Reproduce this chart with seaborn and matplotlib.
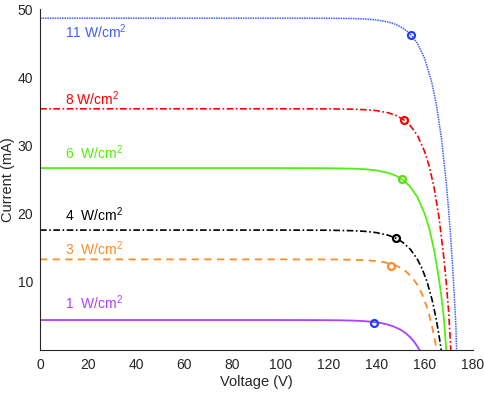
import numpy as np
import pandas as pd
import matplotlib
matplotlib.use("Agg")
import matplotlib.pyplot as plt
import seaborn as sns

sns.set_theme(style="white")
plt.rcParams["font.family"] = ["Liberation Sans", "DejaVu Sans"]
plt.rcParams["mathtext.fontset"] = "custom"
plt.rcParams["mathtext.rm"] = "Liberation Sans"

# I-V curves (voltage in V, current in mA)
v_11 = [0, 100, 120, 130, 135, 140, 145, 148, 151, 154, 157, 160, 163, 165, 167, 169, 170, 171, 172, 173, 173.3]
i_11 = [48.7, 48.7, 48.69, 48.65, 48.58, 48.44, 48.13, 47.79, 47.25, 46.39, 45.0, 42.8, 39.25, 35.8, 31.07, 24.6, 20.5, 15.75, 10.2, 3.65, 0]

v_8 = [0, 100, 120, 130, 135, 140, 145, 148, 151, 154, 157, 160, 162, 164, 166, 168, 169, 170, 170.9]
i_8 = [35.4, 35.4, 35.39, 35.34, 35.27, 35.13, 34.80, 34.44, 33.87, 32.95, 31.5, 29.15, 26.86, 23.73, 19.44, 13.58, 9.9, 5.6, 0]

v_6 = [0, 100, 120, 130, 135, 140, 145, 148, 151, 154, 157, 160, 162, 164, 166, 167, 168, 169.0]
i_6 = [26.7, 26.7, 26.68, 26.62, 26.54, 26.36, 25.99, 25.59, 24.96, 23.97, 22.45, 20.04, 17.73, 14.6, 10.39, 7.76, 4.71, 0]

v_4 = [0, 100, 120, 130, 135, 140, 145, 148, 151, 154, 157, 159, 161, 163, 164, 165, 166, 166.9]
i_4 = [17.6, 17.6, 17.58, 17.51, 17.42, 17.22, 16.83, 16.42, 15.78, 14.81, 13.32, 11.91, 10.03, 7.52, 5.96, 4.18, 2.13, 0]

v_3 = [0, 100, 120, 130, 135, 140, 143, 146, 149, 152, 155, 157, 159, 161, 162, 163, 164, 165]
i_3 = [13.3, 13.3, 13.29, 13.25, 13.19, 13.05, 12.90, 12.65, 12.25, 11.61, 10.58, 9.56, 8.17, 6.25, 5.04, 3.61, 1.96, 0]

v_1 = [0, 100, 110, 120, 125, 130, 134, 138, 141, 144, 147, 150, 152, 154, 156, 157.9]
i_1 = [4.4, 4.4, 4.395, 4.38, 4.36, 4.32, 4.255, 4.14, 4.01, 3.80, 3.47, 2.98, 2.51, 1.88, 1.05, 0]

# maximum power points
mpp_v = [154.4, 151.5, 150.4, 148.2, 146.1, 138.9]
mpp_i = [46.3, 33.8, 25.1, 16.5, 12.4, 3.9]

labels = ["11 W/cm$^2$", "8 W/cm$^2$", "6  W/cm$^2$", "4  W/cm$^2$", "3  W/cm$^2$", "1  W/cm$^2$"]
label_i = [45.8, 35.9, 28.0, 19.0, 13.9, 5.95]

curves = [(v_11, i_11), (v_8, i_8), (v_6, i_6), (v_4, i_4), (v_3, i_3), (v_1, i_1)]
colors = ["#3f5fff", "#ff0000", "#55ee11", "#000000", "#ff8c26", "#b040ff"]
mcolors = ["#1f3fff", "#ff0000", "#55dd11", "#000000", "#ff8c26", "#1f3fff"]
styles = [(0, (1, 0.6)), (0, (4, 1.5, 1, 1.5)), "-", (0, (4, 1.5, 1, 1.5)), (0, (4, 3)), "-"]
widths = [1.1, 1.2, 1.3, 1.2, 1.3, 1.3]

fig = plt.figure(figsize=(4.85, 3.93), dpi=100)
ax = fig.add_axes([0.0825, 0.1094, 0.8921, 0.8669])

for (v, i), c, ls, lw in zip(curves, colors, styles, widths):
    df = pd.DataFrame({"V": v, "I": i})
    sns.lineplot(data=df, x="V", y="I", ax=ax, color=c, linestyle=ls,
                 linewidth=lw, sort=False, estimator=None)

for x, y, mc in zip(mpp_v, mpp_i, mcolors):
    ax.plot([x], [y], marker="o", markersize=5, mfc="none", mec=mc, mew=1.6)

for txt, y, c in zip(labels, label_i, colors):
    ax.text(10.4, y, txt, color=c, fontsize=10, va="baseline", ha="left")

ax.set_xlim(0, 180)
ax.set_ylim(0, 50)
ax.set_xticks(range(0, 181, 20))
ax.set_yticks(range(5, 51, 5))
ax.set_yticklabels(["" if t % 10 else str(t) for t in range(5, 51, 5)])
ax.tick_params(direction="in", length=4, width=0.8, colors="#262626",
               labelsize=10, pad=5)
ax.tick_params(axis="x", pad=6)
for s in ["top", "right"]:
    ax.spines[s].set_visible(False)
for s in ["left", "bottom"]:
    ax.spines[s].set_color("#262626")
    ax.spines[s].set_linewidth(0.8)
ax.set_xlabel("Voltage (V)", fontsize=10.5, color="#262626", labelpad=2)
ax.set_ylabel("Current (mA)", fontsize=10.5, color="#262626", labelpad=2)

fig.savefig("out.png", dpi=100)
